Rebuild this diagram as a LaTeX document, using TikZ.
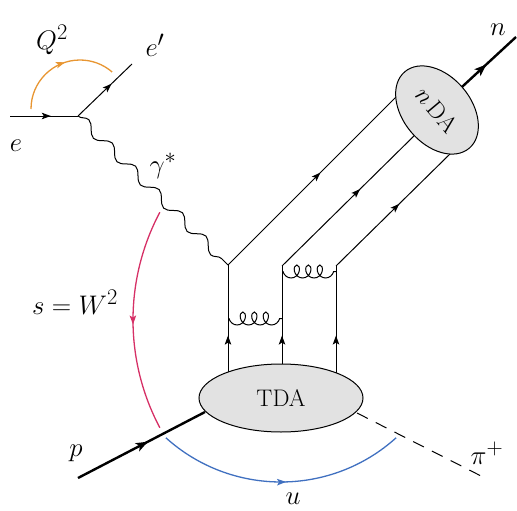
\documentclass[tikz,border=0pt]{standalone}
\usetikzlibrary{decorations.pathmorphing,decorations.markings,shapes.geometric,arrows.meta,calc}
\definecolor{orng}{RGB}{232,150,50}
\definecolor{pnk}{RGB}{214,48,102}
\definecolor{blu}{RGB}{64,112,192}
\definecolor{blobfill}{RGB}{226,226,226}
\tikzset{
 fermion/.style={line width=1pt},
 heavy/.style={line width=2.4pt},
 midarrow/.style={postaction={decorate},decoration={markings,mark=at position #1 with {\arrow{Stealth[length=9pt,width=6.5pt,inset=2pt]}}}},
 bigarrow/.style={postaction={decorate},decoration={markings,mark=at position #1 with {\arrow{Stealth[length=12pt,width=9pt,inset=3pt]}}}},
 photon/.style={line width=1pt, decorate, decoration={snake, amplitude=5pt, segment length=33pt}},
 gluon/.style={line width=1pt, decorate, decoration={coil, mirror, amplitude=6.5pt, segment length=11.5pt, aspect=0.8, pre length=1pt}},
 blob/.style={ellipse, draw, line width=1pt, fill=blobfill, inner sep=0pt, font=\fontsize{24}{28}\selectfont},
 lbl/.style={font=\Huge, scale=1.08, inner sep=0pt},
 kinarc/.style={line width=1.3pt},
}
\begin{document}
\begin{tikzpicture}[x=1pt,y=-1pt]
\useasboundingbox (0,0) rectangle (517,511);
% coordinates
\coordinate (ein) at (10,116);
\coordinate (ev) at (78,116);
\coordinate (eout) at (132,64);
\coordinate (q1t) at (228,265);
\coordinate (q2t) at (282,266);
\coordinate (q3t) at (336,266);
\coordinate (q1b) at (228,372);
\coordinate (q2b) at (282,364);
\coordinate (q3b) at (336,373);
\coordinate (d1) at (396,97);
\coordinate (d2) at (419,131);
\coordinate (d3) at (451,153);
\coordinate (g1a) at (228,318.5);
\coordinate (g1b) at (282,318.5);
\coordinate (g2a) at (282,271.5);
\coordinate (g2b) at (336,271.5);
\coordinate (pin) at (78,478);
\coordinate (pb) at (205,412);
\coordinate (pia) at (357,413);
\coordinate (pib) at (485,478);
\coordinate (nb) at (450,98);
\coordinate (nout) at (516,37);
\coordinate (cQ) at (80,109);
\coordinate (cS) at (362.5,320);
\coordinate (cU) at (281,310);
% electron lines
\draw[fermion, midarrow=0.6] (ein) -- (ev);
\draw[fermion, midarrow=0.62] (ev) -- (eout);
\draw[photon] (ev) -- (q1t);
% quark lines
\draw[fermion, midarrow=0.34] (q1b) -- (q1t);
\draw[fermion, midarrow=0.29] (q2b) -- (q2t);
\draw[fermion, midarrow=0.35] (q3b) -- (q3t);
\draw[fermion, midarrow=0.55] (q1t) -- (d1);
\draw[fermion, midarrow=0.57] (q2t) -- (d2);
\draw[fermion, midarrow=0.55] (q3t) -- (d3);
% gluons
\draw[gluon] (g1a) -- (g1b);
\draw[gluon] (g2a) -- (g2b);
% proton, pion, neutron
\draw[heavy, bigarrow=0.55] (pin) -- (pb);
\draw[fermion, dash pattern=on 12pt off 9pt] (pia) -- (pib);
\draw[heavy, bigarrow=0.55] (nb) -- (nout);
\node[blob, minimum width=100pt, minimum height=68pt, rotate=-50] (nda) at (437,110) {$n\,$DA};
\node[blob, minimum width=164pt, minimum height=68pt] (tda) at (281,398) {TDA};
% kinematic arcs
\draw[kinarc, orng, midarrow=0.55] ($(cQ)+(180:49)$) arc[start angle=180, end angle=311, radius=49];
\draw[kinarc, pnk, midarrow=0.52] ($(cS)+(208:229.5)$) arc[start angle=208, end angle=152, radius=229.5];
\draw[kinarc, blu, midarrow=0.52] ($(cU)+(132:172)$) arc[start angle=132, end angle=48, radius=172];
% labels
\node[lbl] (lQ) at (52,40) {$Q^2$};
\node[lbl] (lep) at (155,45) {$e'$};
\node[lbl] (le) at (16,146) {$e$};
\node[lbl] (lg) at (163,166) {$\gamma^*$};
\node[lbl] (ls) at (75,302) {$s=W^2$};
\node[lbl] (lp) at (76,453) {$p$};
\node[lbl] (lu) at (293,499) {$u$};
\node[lbl] (lpi) at (487,453) {$\pi^+$};
\node[lbl] (ln) at (498,30) {$n$};
\end{tikzpicture}
\end{document}
